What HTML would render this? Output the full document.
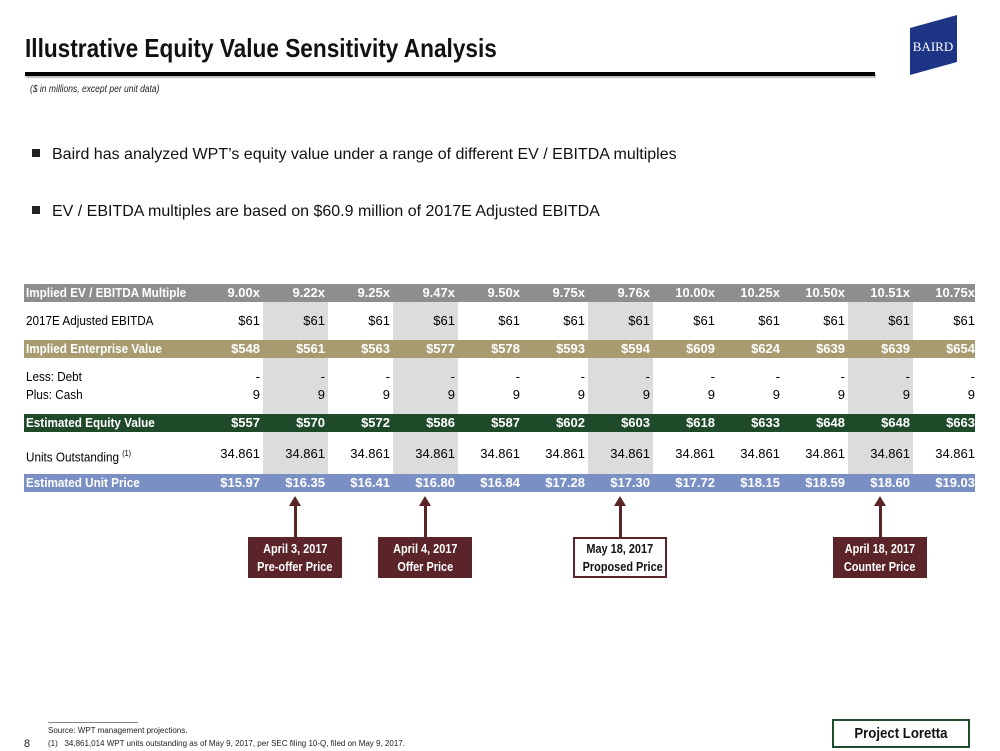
<!DOCTYPE html>
<html><head><meta charset="utf-8"><style>
body{margin:0;width:1000px;height:751px;position:relative;background:#fff;font-family:"Liberation Sans Narrow","Liberation Sans",sans-serif;overflow:hidden}
.a{position:absolute}
.row{position:absolute;left:24px;width:951px;height:18px;font-size:13px;line-height:18px}
.cell{position:absolute;top:0;width:62px;text-align:right;white-space:nowrap}
.lab{position:absolute;left:2px;top:0;white-space:nowrap;transform:scaleX(0.9);transform-origin:0 0}
.bold{font-weight:bold;color:#fff}
.box{position:absolute;top:537px;height:41px;background:#5b2428;color:#fff;font-weight:bold;font-size:13px;text-align:center;line-height:18px;padding-top:2px;box-sizing:border-box;border:1px solid #5b2428;white-space:nowrap}
.box span{display:inline-block;transform:scaleX(0.84)}
.shaft{position:absolute;top:505px;width:3px;height:32px;background:#5b2428}
.head{position:absolute;top:496px;width:0;height:0;border-left:6px solid transparent;border-right:6px solid transparent;border-bottom:10px solid #5b2428}
</style></head><body>
<div class="a" style="left:25px;top:33px;font-size:26px;font-weight:bold;color:#111;white-space:nowrap;transform:scaleX(0.87);transform-origin:0 0">Illustrative Equity Value Sensitivity Analysis</div>
<div class="a" style="left:25px;top:72px;width:850px;height:4px;background:#000;box-shadow:1px 2px 1px #bbb"></div>
<div class="a" style="left:30px;top:84px;font-size:10px;font-style:italic;color:#222;white-space:nowrap;transform:scaleX(0.85);transform-origin:0 0">($ in millions, except per unit data)</div>
<svg class="a" style="left:910px;top:15px" width="48" height="60"><polygon points="0,13 47,0 47,47 0,60" fill="#1d3584"/><text x="23" y="36" font-family="Liberation Serif,serif" font-size="13" fill="#fff" text-anchor="middle">BAIRD</text></svg>
<div class="a" style="left:32px;top:146px;font-size:16px;color:#111"><span style="display:inline-block;width:8px;height:8px;background:#222;margin-right:12px;vertical-align:2px"></span>Baird has analyzed WPT’s equity value under a range of different EV / EBITDA multiples</div>
<div class="a" style="left:32px;top:203px;font-size:16px;color:#111"><span style="display:inline-block;width:8px;height:8px;background:#222;margin-right:12px;vertical-align:2px"></span>EV / EBITDA multiples are based on $60.9 million of 2017E Adjusted EBITDA</div>
<div id="tbl"></div>
<div class="a" style="left:48px;top:722px;width:90px;height:1px;background:#888"></div>
<div class="a" style="left:48px;top:726px;font-size:8px;color:#222">Source: WPT management projections.</div>
<div class="a" style="left:48px;top:739px;font-size:8px;color:#222">(1)&nbsp;&nbsp;&nbsp;34,861,014 WPT units outstanding as of May 9, 2017, per SEC filing 10-Q, filed on May 9, 2017.</div>
<div class="a" style="left:24px;top:738px;font-size:11px;color:#222">8</div>
<div class="a" style="left:832px;top:719px;width:138px;height:29px;border:2px solid #1e4d2b;box-sizing:border-box;text-align:center;font-weight:bold;font-size:15px;line-height:25px;color:#111;white-space:nowrap"><span style="display:inline-block;transform:scaleX(0.88)">Project Loretta</span></div>
<script>
const multiples=["9.00x","9.22x","9.25x","9.47x","9.50x","9.75x","9.76x","10.00x","10.25x","10.50x","10.51x","10.75x"];
const ebitda=["$61","$61","$61","$61","$61","$61","$61","$61","$61","$61","$61","$61"];
const ev=["$548","$561","$563","$577","$578","$593","$594","$609","$624","$639","$639","$654"];
const debt=["-","-","-","-","-","-","-","-","-","-","-","-"];
const cash=["9","9","9","9","9","9","9","9","9","9","9","9"];
const equity=["$557","$570","$572","$586","$587","$602","$603","$618","$633","$648","$648","$663"];
const units=["34.861","34.861","34.861","34.861","34.861","34.861","34.861","34.861","34.861","34.861","34.861","34.861"];
const price=["$15.97","$16.35","$16.41","$16.80","$16.84","$17.28","$17.30","$17.72","$18.15","$18.59","$18.60","$19.03"];
const markedCols=[1,3,6,10];
const markLabels=[["April 3, 2017","Pre-offer Price"],["April 4, 2017","Offer Price"],["May 18, 2017","Proposed Price"],["April 18, 2017","Counter Price"]];
const tbl=document.getElementById('tbl');
const colX=i=>198+65*i;
markedCols.forEach(c=>{const d=document.createElement('div');d.className='a';


d.style.cssText=`left:${colX(c)}px;top:302px;width:65px;height:172px;background:#dcdcdc`;tbl.appendChild(d);});
const rows=[["Implied EV / EBITDA Multiple",multiples,284,"#8e8e90",1,"multiple-row"],
["2017E Adjusted EBITDA",ebitda,312,null,0,"ebitda-row"],
["Implied Enterprise Value",ev,340,"#a89b70",1,"enterprise-value-row"],
["Less: Debt",debt,368,null,0,"debt-row"],
["Plus: Cash",cash,386,null,0,"cash-row"],
["Estimated Equity Value",equity,414,"#1f4a2a",1,"equity-value-row"],
["Units Outstanding <sup style='font-size:8px'>(1)</sup>",units,445,null,0,"units-row"],
["Estimated Unit Price",price,474,"#7a8fc3",1,"unit-price-row"]];
rows.forEach(([l,v,y,bg,b,n])=>{const r=document.createElement('div');r.className='row'+(b?' bold':'');


r.style.top=y+'px';if(bg)r.style.background=bg;
let h=`<span class="lab">${l}</span>`;v.forEach((t,i)=>{h+=`<span class="cell" style="left:${colX(i)-24}px">${t}</span>`});r.innerHTML=h;tbl.appendChild(r);});
markedCols.forEach((c,k)=>{const cx=colX(c)+32;
const s=document.createElement('div');s.className='shaft';


s.style.left=(cx-1)+'px';tbl.appendChild(s);
const hd=document.createElement('div');hd.className='head';


hd.style.left=(cx-6)+'px';tbl.appendChild(hd);
const b=document.createElement('div');b.className='box';


b.style.left=(cx-47)+'px';b.style.width='94px';
if(k==2){b.style.background='#fff';b.style.color='#111';b.style.border='2px solid #5b2428';b.style.paddingTop='1px';}
b.innerHTML='<span>'+markLabels[k][0]+'</span><br><span>'+markLabels[k][1]+'</span>';tbl.appendChild(b);});
</script>
</body></html>
